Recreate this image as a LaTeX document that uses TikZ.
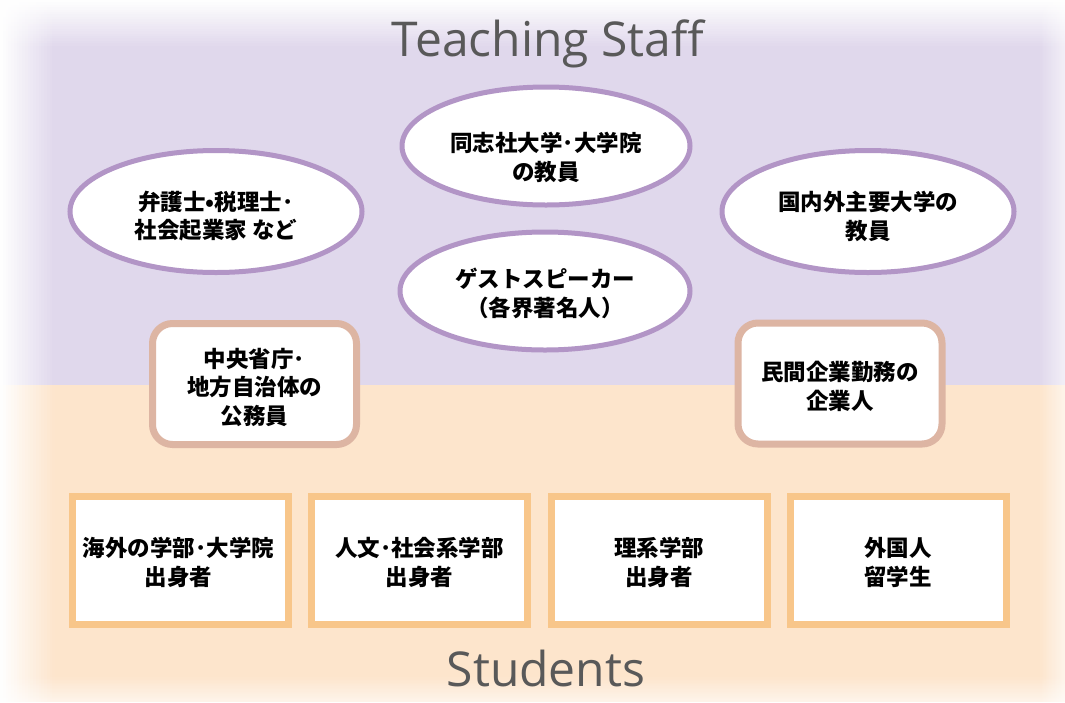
\documentclass[tikz,border=0pt]{standalone}
\usepackage{fontspec}
\setmainfont{Open Sans}
\newfontfamily\jp{Noto Sans CJK JP}
\usetikzlibrary{shapes.geometric}
\definecolor{bgpurple}{HTML}{E0D8EC}
\definecolor{bgpeach}{HTML}{FDE5CC}
\definecolor{ellc}{HTML}{B295C6}
\definecolor{rboxc}{HTML}{DDB5A3}
\definecolor{sboxc}{HTML}{F8C68A}
\definecolor{titlec}{HTML}{595959}
\tikzset{
  ell/.style={ellipse, draw=ellc, line width=5pt, fill=white, inner sep=0pt},
  rbox/.style={rectangle, rounded corners=20pt, draw=rboxc, line width=7pt, fill=white, minimum width=204pt, minimum height=121pt},
  sbox/.style={rectangle, draw=sboxc, line width=7pt, fill=white, minimum width=216pt, minimum height=128pt},
  jtext/.style={font=\jp\bfseries\fontsize{22.5}{28.5}\selectfont, align=center, inner sep=0pt, text=black},
  titletext/.style={font=\fontsize{48}{52}\selectfont, text=titlec, anchor=base, inner sep=0pt}
}
\begin{document}
\begin{tikzpicture}[x=1pt,y=-1pt]
\useasboundingbox (0,0) rectangle (1065,702);
% background
\fill[bgpurple] (0,0) rectangle (1065,385);
\fill[bgpeach] (0,385) rectangle (1065,702);
% soft edges
\foreach \k in {0,...,19}{
  \pgfmathsetmacro{\op}{1-(\k+0.5)/20}
  \pgfmathsetmacro{\aL}{55*\k/20}\pgfmathsetmacro{\bL}{55*(\k+1)/20}
  \fill[white, opacity=\op] (\aL,0) rectangle (\bL,702);
  \pgfmathsetmacro{\aT}{48*\k/20}\pgfmathsetmacro{\bT}{48*(\k+1)/20}
  \fill[white, opacity=\op] (0,\aT) rectangle (1065,\bT);
  \pgfmathsetmacro{\opb}{0.6*\op}
  \pgfmathsetmacro{\aR}{1065-26*\k/20}\pgfmathsetmacro{\bR}{1065-26*(\k+1)/20}
  \fill[white, opacity=\opb] (\aR,0) rectangle (\bR,702);
  \pgfmathsetmacro{\aB}{702-26*\k/20}\pgfmathsetmacro{\bB}{702-26*(\k+1)/20}
  \fill[white, opacity=\opb] (0,\aB) rectangle (1065,\bB);
}
% titles
\node[titletext] (staff) at (548,56) {Teaching Staff};
\node[titletext] (students) at (546,686) {Students};
% ellipses
\node[ell, minimum width=288pt, minimum height=118pt] (e1) at (546,146) {};
\node[jtext] (e1t) at (546,157.5) {同志社大学･大学院\\の教員};
\node[ell, minimum width=290pt, minimum height=118pt] (e2) at (545,291) {};
\node[jtext] (e2t) at (545,293.5) {ゲストスピーカー\\（各界著名人）};
\node[ell, minimum width=292pt, minimum height=122pt] (e3) at (216,211.5) {};
\node[jtext] (e3t) at (216,216) {弁護士•税理士･\\社会起業家 など};
\node[ell, minimum width=292pt, minimum height=122pt] (e4) at (868,211.5) {};
\node[jtext] (e4t) at (868,216.5) {国内外主要大学の\\教員};
% rounded boxes
\node[rbox] (r1) at (254.5,384) {};
\node[jtext] (r1t) at (254.5,387) {中央省庁･\\地方自治体の\\公務員};
\node[rbox] (r2) at (840,383.5) {};
\node[jtext] (r2t) at (840,386.5) {民間企業勤務の\\企業人};
% student boxes
\node[sbox] (s1) at (180.5,560.5) {};
\node[jtext] (s1t) at (178.5,562.5) {海外の学部･大学院\\出身者};
\node[sbox] (s2) at (419.5,560.5) {};
\node[jtext] (s2t) at (419.5,562.5) {人文･社会系学部\\出身者};
\node[sbox] (s3) at (659,560.5) {};
\node[jtext] (s3t) at (659,562.5) {理系学部\\出身者};
\node[sbox] (s4) at (898,560.5) {};
\node[jtext] (s4t) at (898,562.5) {外国人\\留学生};
\end{tikzpicture}
\end{document}
